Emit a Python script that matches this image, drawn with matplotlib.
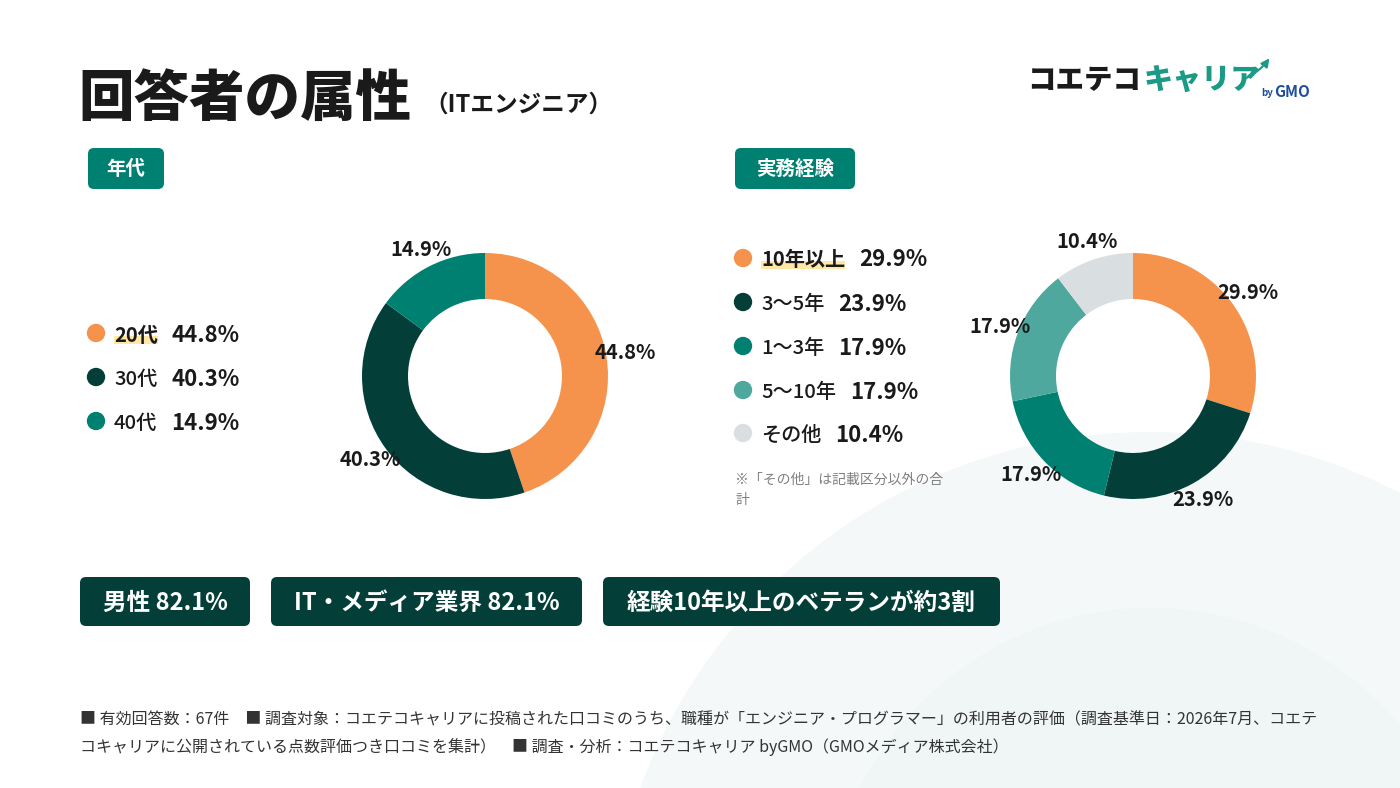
import numpy as np
import matplotlib.pyplot as plt
from matplotlib.patches import FancyBboxPatch, Circle, Rectangle

plt.rcParams['font.family'] = ['Noto Sans CJK JP', 'DejaVu Sans']

# DATA
age_labels = ["20代", "30代", "40代"]
age_values = [44.8, 40.3, 14.9]
exp_labels = ["10年以上", "3〜5年", "1〜3年", "5〜10年", "その他"]
exp_values = [29.9, 23.9, 17.9, 17.9, 10.4]
summary_items = ["男性 82.1%", "IT・メディア業界 82.1%", "経験10年以上のベテランが約3割"]

# COLORS
ORANGE = '#F5934C'
DARK = '#033F38'
TEAL = '#008070'
LTEAL = '#4FA89E'
GRAY = '#D9DEE1'
INK = '#1A1A1A'
age_colors = [ORANGE, DARK, TEAL]
exp_colors = [ORANGE, DARK, TEAL, LTEAL, GRAY]

W, H = 1400, 788
fig = plt.figure(figsize=(W / 100, H / 100), dpi=100)
fig.patch.set_facecolor('white')

# full-figure axes in pixel coordinates (y down)
bg = fig.add_axes([0, 0, 1, 1])
bg.set_xlim(0, W)
bg.set_ylim(H, 0)
bg.axis('off')

# faint background circles
bg.add_patch(Circle((1150, 975), 543, facecolor='#F4F8F8', edgecolor='none', zorder=0))
bg.add_patch(Circle((1150, 932), 324, facecolor='#F0F6F5', edgecolor='none', zorder=0))

# TITLE
bg.text(78, 99, "回答者の属性", fontsize=40, weight='heavy', color=INK, va='center')
bg.text(424, 105, "（ITエンジニア）", fontsize=17, weight='bold', color=INK, va='center')

# LOGO
logo = bg.text(1027, 80, "コエテコ", fontsize=20.5, weight='heavy', color=INK, va='center')
bg.annotate("キャリア", xy=(1, 0.5), xycoords=logo, xytext=(2, 0), textcoords='offset points',
            fontsize=21, weight='heavy', color='#1B9A86', va='center')
bg.annotate("", xy=(1271, 56), xytext=(1242, 80),
            arrowprops=dict(arrowstyle='-|>', color='#1B9A86', lw=1.5, mutation_scale=12,
                            connectionstyle='arc3,rad=0.15'))
bg.text(1261, 93, "by", fontsize=7, weight='bold', color='#1F4E9E', va='center')
bg.text(1274, 92, "GMO", fontsize=11, weight='bold', color='#1F4E9E', va='center')


def badge(x, y, w, h, text):
    bg.add_patch(FancyBboxPatch((x, y), w, h, boxstyle="round,pad=0,rounding_size=6",
                                facecolor=TEAL, edgecolor='none', zorder=2))
    bg.text(x + w / 2, y + h / 2 + 1, text, fontsize=14, weight='bold', color='white',
            ha='center', va='center', zorder=3)


badge(88, 148, 76, 41, "年代")
badge(735, 148, 120, 41, "実務経験")


def legend(x_dot, ys, labels, values, colors, bold_first=True):
    bg.scatter([x_dot] * len(ys), ys, s=175, c=colors, edgecolors='none', zorder=3)
    items = []
    for i, (y, lab, val) in enumerate(zip(ys, labels, values)):
        t = bg.text(x_dot + 18, y + 2, lab, fontsize=14.5,
                    weight='bold' if (i == 0 and bold_first) else 'medium',
                    color=INK, va='center', zorder=3)
        bg.annotate(f"{val:.1f}%", xy=(1, 0.5), xycoords=t, xytext=(10, 0), textcoords='offset points',
                    fontsize=16, weight='bold', color=INK, va='center', zorder=3)
        items.append(t)
    return items


left_items = legend(96, [333, 377, 421], age_labels, age_values, age_colors)
right_items = legend(743, [258, 302, 346, 390, 433], exp_labels, exp_values, exp_colors)

bg.text(735, 490, "※「その他」は記載区分以外の合\n計", fontsize=10, color='#808080', va='center',
        linespacing=1.6)


# DONUTS
def donut(cx, cy, R, values, colors):
    span = 2.5 * R
    ax = fig.add_axes([(cx - span / 2) / W, (H - cy - span / 2) / H, span / W, span / H])
    ax.pie(values, colors=colors, startangle=90, counterclock=False,
           wedgeprops=dict(width=0.374, edgecolor='none'),
           autopct='%1.1f%%', pctdistance=1.155,
           textprops=dict(fontsize=14.5, weight='bold', color=INK))
    ax.set_xlim(-1.25, 1.25)
    ax.set_ylim(-1.25, 1.25)
    ax.set_aspect('equal')
    ax.patch.set_alpha(0)
    return ax


donut(485, 376, 123, age_values, age_colors)
donut(1133, 376, 123, exp_values, exp_colors)

# SUMMARY BOXES
boxes = [(80, 170), (271, 311), (603, 397)]
for (x, w), txt in zip(boxes, summary_items):
    bg.add_patch(FancyBboxPatch((x, 577), w, 49, boxstyle="round,pad=0,rounding_size=6",
                                facecolor=DARK, edgecolor='none', zorder=2))
    bg.text(x + w / 2, 603, txt, fontsize=17, weight='bold', color='white',
            ha='center', va='center', zorder=3)

# FOOTNOTE
foot1 = ("■ 有効回答数：67件　■ 調査対象：コエテコキャリアに投稿された口コミのうち、職種が"
         "「エンジニア・プログラマー」の利用者の評価（調査基準日：2026年7月、コエテ")
foot2 = "コキャリアに公開されている点数評価つき口コミを集計）　■ 調査・分析：コエテコキャリア byGMO（GMOメディア株式会社）"
bg.text(80, 720, foot1, fontsize=11.5, color='#333333', va='center')
bg.text(80, 747, foot2, fontsize=11.5, color='#333333', va='center')

# yellow marker under the first legend label of each list
fig.canvas.draw()
inv = bg.transData.inverted()
for t in [left_items[0], right_items[0]]:
    bb = t.get_window_extent()
    (x0, y0), (x1, y1) = inv.transform([[bb.x0, bb.y0], [bb.x1, bb.y1]])
    bg.add_patch(Rectangle((x0, y0 - 10), x1 - x0, 8, facecolor='#FFE8A6', edgecolor='none', zorder=2))

fig.savefig('out.png', dpi=100)
